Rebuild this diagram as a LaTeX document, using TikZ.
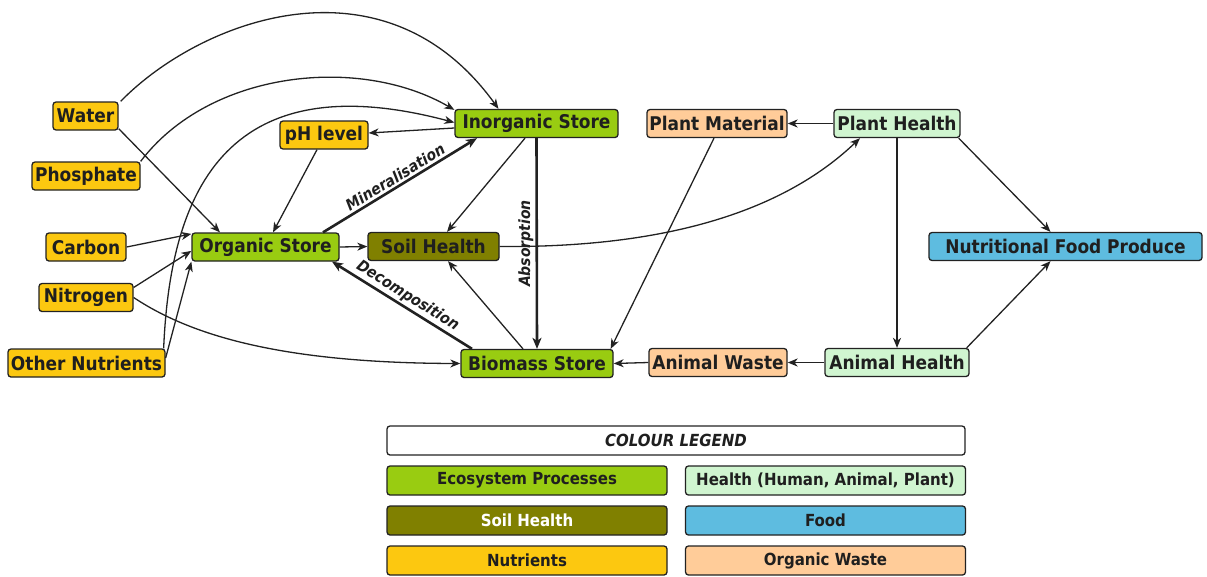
\documentclass[tikz,border=0pt]{standalone}
\usepackage{fontspec}
\setmainfont{DejaVu Sans}
\IfFontExistsTF{DejaVu Sans Condensed}{%
  \newfontfamily\nfont{DejaVu Sans Condensed}\def\cf{0.9}}{%
  \newfontfamily\nfont{DejaVu Sans}\def\cf{1}}
\usetikzlibrary{arrows.meta,calc}
\definecolor{ecogreen}{RGB}{153,204,17}
\definecolor{soilolive}{RGB}{128,128,0}
\definecolor{nutyellow}{RGB}{252,200,16}
\definecolor{healthgreen}{RGB}{208,245,208}
\definecolor{foodblue}{RGB}{94,188,224}
\definecolor{wastepeach}{RGB}{255,204,153}
\definecolor{edgegray}{RGB}{34,34,34}
\pgfmathsetmacro{\nsz}{17/\cf}
\pgfmathsetmacro{\lsz}{15/\cf}
\pgfmathsetmacro{\esz}{14/\cf}
\begin{document}
\begin{tikzpicture}[x=1pt,y=-1pt,
  box/.style={draw=edgegray, line width=1.3pt, rounded corners=3pt, minimum height=28pt, inner sep=0pt,
    font=\nfont\fontsize{\nsz}{20}\selectfont\bfseries, text=black!88},
  eco/.style={box, fill=ecogreen},
  soil/.style={box, fill=soilolive},
  nut/.style={box, fill=nutyellow},
  hlth/.style={box, fill=healthgreen},
  food/.style={box, fill=foodblue},
  waste/.style={box, fill=wastepeach},
  arr/.style={draw=edgegray, line width=1.3pt, -{Stealth[length=10pt,width=8pt,inset=3pt]}},
  thickarr/.style={draw=edgegray, line width=2.6pt, -{Stealth[length=11pt,width=9pt,inset=3pt]}},
  thickrev/.style={draw=edgegray, line width=2.6pt, {Stealth[length=11pt,width=9pt,inset=3pt]}-},
  lbl/.style={font=\nfont\fontsize{\esz}{16}\selectfont\bfseries\itshape, text=black!88, inner sep=2pt},
  leg/.style={box, minimum width=280pt, minimum height=29pt, font=\nfont\fontsize{\lsz}{18}\selectfont\bfseries}
]
\useasboundingbox (0,0) rectangle (1207,576);

% nutrients
\node[nut, minimum width=65pt]  (water)  at (85.5,116) {Water};
\node[nut, minimum width=108pt] (phos)   at (86,176)   {Phosphate};
\node[nut, minimum width=80pt]  (carbon) at (86,247)   {Carbon};
\node[nut, minimum width=94pt]  (nitro)  at (86,297.5) {Nitrogen};
\node[nut, minimum width=157pt] (other)  at (86.5,363) {Other Nutrients};
\node[nut, minimum width=88pt]  (ph)     at (324,135)  {pH level};
% ecosystem
\node[eco, minimum width=147pt] (organic) at (265.5,247)  {Organic Store};
\node[eco, minimum width=163pt] (inorg)   at (536.5,123.5){Inorganic Store};
\node[eco, minimum width=152pt] (biomass) at (537,363.5)  {Biomass Store};
\node[soil, minimum width=131pt] (soilh)  at (433.5,246.5){Soil Health};
% right
\node[waste, minimum width=140pt] (plantm)  at (717,123.5)  {Plant Material};
\node[hlth,  minimum width=126pt] (planth)  at (897,123.5)  {Plant Health};
\node[waste, minimum width=138pt] (animalw) at (718,362.5)  {Animal Waste};
\node[hlth,  minimum width=144pt] (animalh) at (897,362.5)  {Animal Health};
\node[food,  minimum width=273pt] (nfp)     at (1065.5,246.5) {Nutritional Food Produce};

% curved arcs to Inorganic Store
\draw[arr] ([xshift=2pt]water.north east) .. controls (200,20) and (384,-50) .. ([xshift=-38pt]inorg.north);
\draw[arr] (phos.north east) .. controls (210,70) and (360,55) .. ([yshift=-1pt]inorg.north west);
\draw[arr] ([xshift=-2pt]other.north east) .. controls (170,200) and (220,60) .. ([yshift=1pt]inorg.west);

% nutrients to Organic Store
\draw[arr] ([yshift=2pt]water.south east) -- ([xshift=-45.5pt]organic.north);
\draw[arr] (carbon.east) -- (organic.170);
\draw[arr] ([yshift=10pt]nitro.east) -- (organic.183);
\draw[arr] ([yshift=5pt]other.east) -- (organic.south west);
\draw[arr] (nitro.east) .. controls (190,335) and (280,363) .. (biomass.west);
\draw[arr] ([xshift=-7pt]ph.south) -- ([xshift=7.5pt]organic.north);
\draw[arr] ([yshift=-4.5pt]inorg.west) -- ([yshift=2pt]ph.east);

% core processes
\draw[thickarr] ([xshift=57.5pt]organic.north) -- node[lbl, sloped, above] {Mineralisation} ([xshift=-59.5pt]inorg.south);
\draw[arr] (organic.east) -- (soilh.west);
\draw[arr] ([xshift=-11.5pt]inorg.south) -- ([xshift=13.5pt]soilh.north);
\draw[thickarr] (inorg.south) -- node[lbl, rotate=90, above] {Absorption} (biomass.north);
\draw[thickrev] ([xshift=66.5pt]organic.south) -- node[lbl, sloped, above] {Decomposition} ([xshift=-65pt]biomass.north);
\draw[arr] ([xshift=-14pt]biomass.north) -- ([xshift=14.5pt]soilh.south);
\draw[arr] (soilh.east) .. controls (680,248) and (790,205) .. ([xshift=-37pt]planth.south);

% right part
\draw[arr] (planth.west) -- (plantm.east);
\draw[arr] ([xshift=-3pt]plantm.south) -- ([xshift=-3pt]biomass.north east);
\draw[arr] (planth.south) -- (animalh.north);
\draw[arr] ([xshift=-2pt]planth.south east) -- ([xshift=-15pt]nfp.north);
\draw[arr] ([xshift=-3pt]animalh.north east) -- ([xshift=-15pt]nfp.south);
\draw[arr] (animalh.west) -- (animalw.east);
\draw[arr] (animalw.west) -- (biomass.east);

% legend
\node[box, fill=white, minimum width=578pt, minimum height=29pt, font=\nfont\fontsize{\lsz}{18}\selectfont\bfseries\itshape] (legtitle) at (676,440.5) {COLOUR LEGEND};
\node[leg, fill=ecogreen]    (leg1) at (527,480.5)   {Ecosystem Processes};
\node[leg, fill=soilolive, text=white] (leg2) at (527,520.5) {Soil Health};
\node[leg, fill=nutyellow]   (leg3) at (527,560.5)   {Nutrients};
\node[leg, fill=healthgreen] (leg4) at (825.5,480.5) {Health (Human, Animal, Plant)};
\node[leg, fill=foodblue]    (leg5) at (825.5,520.5) {Food};
\node[leg, fill=wastepeach]  (leg6) at (825.5,560.5) {Organic Waste};
\end{tikzpicture}
\end{document}
